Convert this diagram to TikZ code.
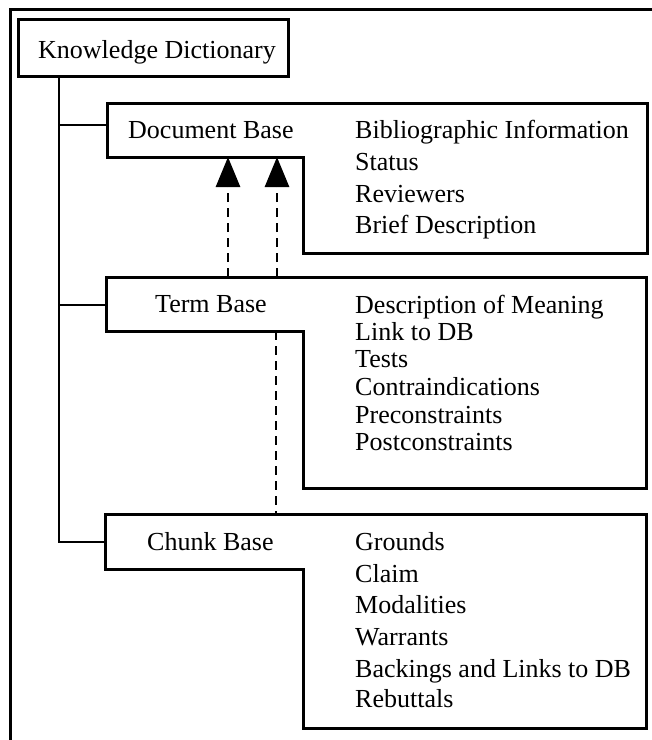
\documentclass[tikz,border=0pt]{standalone}
\usepackage{fontspec}
\setmainfont{Liberation Serif}
\usetikzlibrary{arrows.meta}
\tikzset{
  boxline/.style={line width=3pt, line join=miter},
  trunk/.style={line width=2.8pt},
  frameline/.style={line width=3pt},
  dashlink/.style={line width=2.8pt, dash pattern=on 9pt off 6pt, -{Triangle[length=30pt,width=24pt]}},
  dashplain/.style={line width=2.8pt, dash pattern=on 9pt off 6pt},
  txt/.style={anchor=base west, inner sep=0pt, font=\fontsize{26}{31}\selectfont},
}
\begin{document}
\begin{tikzpicture}[x=1pt,y=-1pt]
\useasboundingbox (0,0) rectangle (652,740);
\clip (0,0) rectangle (652,740);
\fill[white] (0,0) rectangle (652,740);
% outer frame
\coordinate (frBL) at (10,760);
\coordinate (frTL) at (10,9);
\coordinate (frTR) at (680,9);
\draw[frameline] (frBL) -- (frTL) -- (frTR);

% Knowledge Dictionary box
\node[draw, line width=3pt, minimum width=270pt, minimum height=57pt, inner sep=0pt] (kd) at (153,47.5) {};
\node[txt] (kdt) at (38,58) {Knowledge Dictionary};

% Document Base shape
\coordinate (dbA) at (107,103);
\coordinate (dbB) at (647,103);
\coordinate (dbC) at (647,253);
\coordinate (dbD) at (303,253);
\coordinate (dbE) at (303,157);
\coordinate (dbF) at (107,157);
\coordinate (dbW) at (107,125);
\draw[boxline] (dbA) -- (dbB) -- (dbC) -- (dbD) -- (dbE) -- (dbF) -- cycle;
\node[txt] (dbt) at (128,138) {Document Base};
\node[txt] (db1) at (355,138) {Bibliographic Information};
\node[txt] (db2) at (355,170) {Status};
\node[txt] (db3) at (355,202) {Reviewers};
\node[txt] (db4) at (355,233) {Brief Description};

% Term Base shape
\coordinate (tbA) at (106,277);
\coordinate (tbB) at (646,277);
\coordinate (tbC) at (646,488);
\coordinate (tbD) at (303,488);
\coordinate (tbE) at (303,331);
\coordinate (tbF) at (106,331);
\coordinate (tbW) at (106,305);
\draw[boxline] (tbA) -- (tbB) -- (tbC) -- (tbD) -- (tbE) -- (tbF) -- cycle;
\node[txt] (tbt) at (155,312) {Term Base};
\node[txt] (tb1) at (355,313) {Description of Meaning};
\node[txt] (tb2) at (355,340) {Link to DB};
\node[txt] (tb3) at (355,367) {Tests};
\node[txt] (tb4) at (355,395) {Contraindications};
\node[txt] (tb5) at (355,423) {Preconstraints};
\node[txt] (tb6) at (355,450) {Postconstraints};

% Chunk Base shape
\coordinate (cbA) at (105,514);
\coordinate (cbB) at (646,514);
\coordinate (cbC) at (646,728);
\coordinate (cbD) at (303,728);
\coordinate (cbE) at (303,569);
\coordinate (cbF) at (105,569);
\coordinate (cbW) at (105,542);
\draw[boxline] (cbA) -- (cbB) -- (cbC) -- (cbD) -- (cbE) -- (cbF) -- cycle;
\node[txt] (cbt) at (147,550) {Chunk Base};
\node[txt] (cb1) at (355,550) {Grounds};
\node[txt] (cb2) at (355,582) {Claim};
\node[txt] (cb3) at (355,613) {Modalities};
\node[txt] (cb4) at (355,645) {Warrants};
\node[txt] (cb5) at (355,677) {Backings and Links to DB};
\node[txt] (cb6) at (355,707) {Rebuttals};

% tree trunk and branches
\coordinate (trTop) at (59,76);
\coordinate (trDB) at (59,125);
\coordinate (trTB) at (59,305);
\coordinate (trCB) at (59,542);
\draw[trunk] (trTop) -- (trCB) -- (cbW);
\draw[trunk] (trDB) -- (dbW);
\draw[trunk] (trTB) -- (tbW);

% dashed links
\coordinate (l1s) at (228,277);
\coordinate (l1e) at (228,157);
\coordinate (l2s) at (277,277);
\coordinate (l2e) at (277,157);
\coordinate (l3s) at (276,331);
\coordinate (l3e) at (276,514);
\draw[dashlink] (l1s) -- (l1e);
\draw[dashlink] (l2s) -- (l2e);
\draw[dashplain] (l3s) -- (l3e);
\end{tikzpicture}
\end{document}
